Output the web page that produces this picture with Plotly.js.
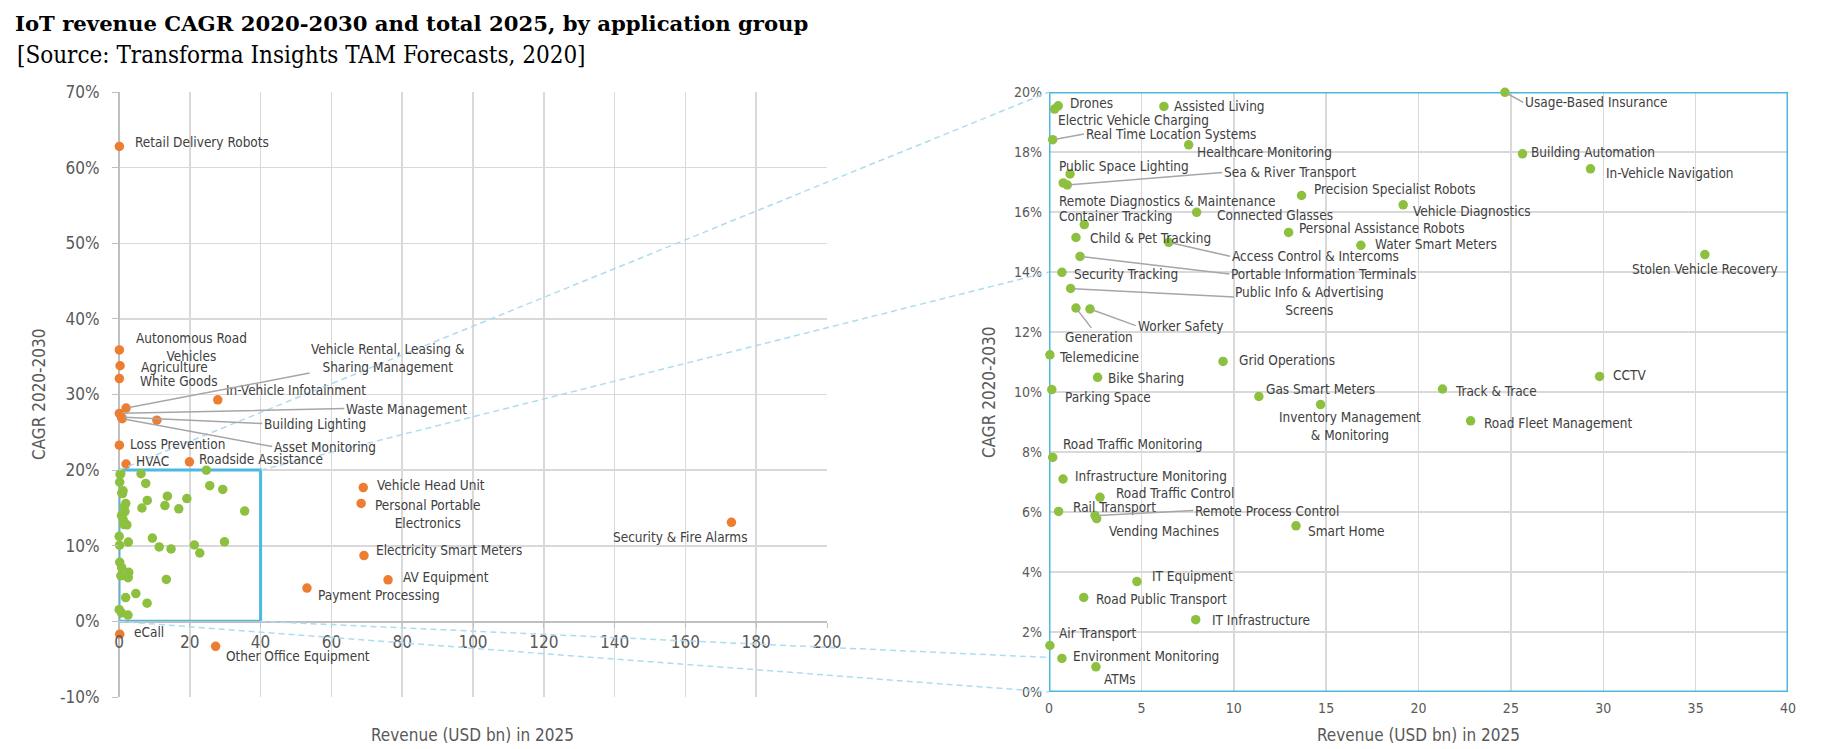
<!DOCTYPE html>
<html><head><meta charset="utf-8">
<script src="https://cdn.plot.ly/plotly-3.0.1.min.js"></script>
<style>html,body{margin:0;padding:0;background:#fff}</style>
</head><body><div id="chart" style="width:1831px;height:749px"></div>
<script>
// ---------------- DATA ----------------
const orangeNames = ["Retail Delivery Robots","Autonomous Road Vehicles","Agriculture","White Goods","In-Vehicle Infotainment","Vehicle Rental, Leasing & Sharing Management","Waste Management","Building Lighting","Asset Monitoring","","Loss Prevention","HVAC","Roadside Assistance","Vehicle Head Unit","Personal Portable Electronics","Electricity Smart Meters","AV Equipment","Payment Processing","Security & Fire Alarms","eCall","Other Office Equipment"];
const orangeRevenue = [0.1,0.1,0.3,0.1,27.9,2.0,0.1,0.7,0.9,10.7,0.1,2.0,19.9,69.0,68.4,69.2,76.0,53.1,173.0,0.2,27.3];
const orangeCagr = [62.8,35.9,33.8,32.1,29.3,28.2,27.5,27.0,26.8,26.6,23.3,20.8,21.1,17.7,15.6,8.7,5.5,4.4,13.1,-1.7,-3.3];

const greenNames = ["Drones","Electric Vehicle Charging","Assisted Living","Real Time Location Systems","Healthcare Monitoring","Public Space Lighting","Sea & River Transport","Remote Diagnostics & Maintenance","Container Tracking","Connected Glasses","Precision Specialist Robots","Personal Assistance Robots","Water Smart Meters","Vehicle Diagnostics","Child & Pet Tracking","Access Control & Intercoms","Portable Information Terminals","Security Tracking","Public Info & Advertising Screens","Generation","Worker Safety","Telemedicine","Bike Sharing","Parking Space","Grid Operations","Gas Smart Meters","Inventory Management & Monitoring","Road Traffic Monitoring","Infrastructure Monitoring","CCTV","Track & Trace","Road Fleet Management","Usage-Based Insurance","Building Automation","In-Vehicle Navigation","Stolen Vehicle Recovery","Road Traffic Control","Rail Transport","Remote Process Control","Vending Machines","Smart Home","IT Equipment","Road Public Transport","IT Infrastructure","Air Transport","Environment Monitoring","ATMs"];
const greenRevenue = [0.5,0.3,6.22,0.2,7.56,1.14,0.99,0.77,1.91,7.99,13.67,12.97,16.88,19.17,1.46,6.48,1.68,0.70,1.17,1.46,2.22,0.05,2.63,0.15,9.42,11.36,14.7,0.2,0.76,29.8,21.3,22.82,24.68,25.63,29.31,35.5,2.76,0.52,2.49,2.58,13.37,4.76,1.88,7.94,0.05,0.7,2.54];
const greenCagr = [19.54,19.43,19.52,18.41,18.24,17.27,16.9,16.97,15.58,15.99,16.55,15.32,14.89,16.24,15.15,14.99,14.52,13.99,13.45,12.8,12.77,11.24,10.49,10.08,11.02,9.85,9.58,7.82,7.1,10.52,10.1,9.04,19.99,17.94,17.44,14.58,6.49,6.02,5.88,5.78,5.54,3.68,3.15,2.41,1.55,1.12,0.84];

const leftXTicks = [0,20,40,60,80,100,120,140,160,180,200];
const leftYTicks = [-10,0,10,20,30,40,50,60,70];
const rightXTicks = [0,5,10,15,20,25,30,35,40];
const rightYTicks = [0,2,4,6,8,10,12,14,16,18,20];

// zoom box on the left chart and where its connectors land on the right chart
const zoomBox = {x0:0, x1:40, y0:0, y1:20};
const connectorsFrom = [[0,20],[40,20],[40,0],[0,0]];   // left-chart data coords
const connectorsTo   = [[0,20],[0,14],[0,1.15],[0,0]];  // right-chart data coords

// ---------------- LABEL PLACEMENT (px offsets) ----------------
// [dx, dy(up), anchor, leader, displayText]
const orangeLabelPos = {
 "Retail Delivery Robots":[14,4.7,'left',false],
 "Autonomous Road Vehicles":[71.8,3,'center',false,"Autonomous Road<br>Vehicles"],
 "Agriculture":[19,-1.7,'left',false],
 "White Goods":[18.7,-2.3,'left',false],
 "In-Vehicle Infotainment":[6.3,10,'left',false],
 "Vehicle Rental, Leasing & Sharing Management":[262,50,'center',true,"Vehicle Rental, Leasing &<br>Sharing Management"],
 "Waste Management":[225,4.8,'left',true],
 "Building Lighting":[140.8,-6.4,'left',true],
 "Asset Monitoring":[150,-27.9,'left',true],
 "Loss Prevention":[8.3,0.7,'left',false],
 "HVAC":[8.3,2.6,'left',false],
 "Roadside Assistance":[8,2.4,'left',false],
 "Vehicle Head Unit":[11.3,2.7,'left',false],
 "Personal Portable Electronics":[66,-10.3,'center',false,"Personal Portable<br>Electronics"],
 "Electricity Smart Meters":[9.6,6,'left',false],
 "AV Equipment":[13,2.6,'left',false],
 "Payment Processing":[9,-6.7,'left',false],
 "Security & Fire Alarms":[-51.2,-14.3,'center',false],
 "eCall":[12,2.3,'left',false],
 "Other Office Equipment":[8.3,-10,'left',false]
};
const greenLabelPos = {
 "Drones":[10,3.3,'left',false],
 "Electric Vehicle Charging":[1.7,-10.7,'left',false],
 "Assisted Living":[8.3,0,'left',false],
 "Real Time Location Systems":[31.3,5.7,'left',true],
 "Healthcare Monitoring":[6.3,-7.3,'left',false],
 "Public Space Lighting":[-12.7,8.3,'left',false],
 "Sea & River Transport":[155,12.6,'left',true],
 "Remote Diagnostics & Maintenance":[-6.6,-18.4,'left',false],
 "Container Tracking":[-27.3,8.3,'left',false],
 "Connected Glasses":[18.3,-2.3,'left',false],
 "Precision Specialist Robots":[10.6,6.4,'left',false],
 "Personal Assistance Robots":[8,4.4,'left',false],
 "Water Smart Meters":[12.3,1.4,'left',false],
 "Vehicle Diagnostics":[7.7,-5.7,'left',false],
 "Child & Pet Tracking":[12.3,0,'left',false],
 "Access Control & Intercoms":[61.3,-14,'left',true],
 "Portable Information Terminals":[149.3,-17.6,'left',true],
 "Security Tracking":[10.3,-1.6,'left',false],
 "Public Info & Advertising Screens":[239.3,-12.6,'center',true,"Public Info & Advertising<br>Screens"],
 "Generation":[22.7,-29.4,'center',true],
 "Worker Safety":[45.7,-16.7,'left',true],
 "Telemedicine":[6.7,-1.7,'left',false],
 "Bike Sharing":[8.3,-0.6,'left',false],
 "Parking Space":[11.6,-7.7,'left',false],
 "Grid Operations":[14.3,1.7,'left',false],
 "Gas Smart Meters":[5,7.7,'left',false],
 "Inventory Management & Monitoring":[29,-21.3,'center',false,"Inventory Management<br>& Monitoring"],
 "Road Traffic Monitoring":[8,13.4,'left',false],
 "Infrastructure Monitoring":[10.3,2.6,'left',false],
 "CCTV":[11.3,1,'left',false],
 "Track & Trace":[10,-2.4,'left',false],
 "Road Fleet Management":[11,-1.7,'left',false],
 "Usage-Based Insurance":[18.3,-10,'left',true],
 "Building Automation":[6.3,2.3,'left',false],
 "In-Vehicle Navigation":[13.3,-4.3,'left',false],
 "Stolen Vehicle Recovery":[0,-14,'center',false],
 "Road Traffic Control":[14.3,4.4,'left',false],
 "Rail Transport":[12,4,'left',false],
 "Remote Process Control":[98.3,5,'left',true],
 "Vending Machines":[10,-12,'left',false],
 "Smart Home":[9.7,-5,'left',false],
 "IT Equipment":[12.7,5.3,'left',false],
 "Road Public Transport":[10.6,-1.6,'left',false],
 "IT Infrastructure":[14.3,-0.7,'left',false],
 "Air Transport":[6.7,12.4,'left',false],
 "Environment Monitoring":[8.7,2,'left',false],
 "ATMs":[5.7,-12,'left',false]
};

// ---------------- LAYOUT ----------------
const W=1831, H=749;
const FONT = "'DejaVu Sans Condensed', 'DejaVu Sans', sans-serif";
const ORANGE='#ED7D31', GREEN='#8DC03F', BLUE='#4DB8E2', GRID='#D9D9D9', AXIS='#BFBFBF';
const LXdom=[119/W, 827/W], LYdom=[1-697/H, 1-92/H];
const RXdom=[1049/W, 1788/W], RYdom=[1-692/H, 1-92/H];
const LXr=[0,200], LYr=[-10,70], RXr=[0,40], RYr=[0,20];

function lin(v, r, d){ return d[0] + (v-r[0])/(r[1]-r[0])*(d[1]-d[0]); }
function pL(p){ return [lin(p[0],LXr,LXdom), lin(p[1],LYr,LYdom)]; }
function pR(p){ return [lin(p[0],RXr,RXdom), lin(p[1],RYr,RYdom)]; }
function pctText(v){ return (v<0?'-':'') + Math.abs(v) + '%'; }

const traces = [
 {x:greenRevenue, y:greenCagr, xaxis:'x', yaxis:'y', mode:'markers', type:'scatter',
  marker:{color:GREEN, size:9.5}, hoverinfo:'skip', cliponaxis:false},
 {x:orangeRevenue, y:orangeCagr, xaxis:'x', yaxis:'y', mode:'markers', type:'scatter',
  marker:{color:ORANGE, size:9.5}, hoverinfo:'skip', cliponaxis:false},
 {x:greenRevenue, y:greenCagr, xaxis:'x2', yaxis:'y2', mode:'markers', type:'scatter',
  marker:{color:GREEN, size:9.5}, hoverinfo:'skip', cliponaxis:false}
];

const annotations = [];
function addLabels(names, xs, ys, pos, xref, yref){
  names.forEach((n,i)=>{
    const s = pos[n]; if(!n || !s) return;
    const txt = s[4] || n;
    const base = {x:xs[i], y:ys[i], xref:xref, yref:yref, text:txt, align:'center',
      font:{family:FONT, size:13.5, color:'#404040'}, xanchor:s[2], yanchor:'middle'};
    if(s[3]){
      Object.assign(base,{showarrow:true, ax:s[0], ay:-s[1], arrowhead:0, arrowwidth:1.5,
        arrowcolor:'#A6A6A6', standoff:3});
    } else {
      Object.assign(base,{showarrow:false, xshift:s[0], yshift:s[1]});
    }
    annotations.push(base);
  });
}
addLabels(orangeNames, orangeRevenue, orangeCagr, orangeLabelPos, 'x', 'y');
addLabels(greenNames, greenRevenue, greenCagr, greenLabelPos, 'x2', 'y2');

// axis titles + subtitle
annotations.push({xref:'paper',yref:'paper',x:(LXdom[0]+LXdom[1])/2,y:1-735/H,text:'Revenue (USD bn) in 2025',
  showarrow:false,xanchor:'center',yanchor:'middle',font:{family:FONT,size:17,color:'#595959'}});
annotations.push({xref:'paper',yref:'paper',x:(RXdom[0]+RXdom[1])/2,y:1-735/H,text:'Revenue (USD bn) in 2025',
  showarrow:false,xanchor:'center',yanchor:'middle',font:{family:FONT,size:17,color:'#595959'}});
annotations.push({xref:'paper',yref:'paper',x:38.5/W,y:(LYdom[0]+LYdom[1])/2,text:'CAGR 2020-2030',textangle:-90,
  showarrow:false,xanchor:'center',yanchor:'middle',font:{family:FONT,size:17,color:'#595959'}});
annotations.push({xref:'paper',yref:'paper',x:989/W,y:(RYdom[0]+RYdom[1])/2,text:'CAGR 2020-2030',textangle:-90,
  showarrow:false,xanchor:'center',yanchor:'middle',font:{family:FONT,size:17,color:'#595959'}});
annotations.push({xref:'paper',yref:'paper',x:15/W,y:1-55/H,text:'[Source: Transforma Insights TAM Forecasts, 2020]',
  showarrow:false,xanchor:'left',yanchor:'middle',font:{family:"'DejaVu Serif Condensed', 'DejaVu Serif', serif",size:24,color:'#000'}});

const shapes = [];
// zoom box on left chart
shapes.push({type:'rect', xref:'x', yref:'y', x0:zoomBox.x0, x1:zoomBox.x1, y0:zoomBox.y0, y1:zoomBox.y1,
  line:{color:BLUE, width:3}, layer:'between'});
// border of right chart
shapes.push({type:'rect', xref:'x2', yref:'y2', x0:RXr[0], x1:RXr[1], y0:RYr[0], y1:RYr[1],
  line:{color:BLUE, width:3}, layer:'between'});
// dashed connectors
connectorsFrom.forEach((f,i)=>{
  const a = pL(f), b = pR(connectorsTo[i]);
  shapes.push({type:'line', xref:'paper', yref:'paper', x0:a[0], y0:a[1], x1:b[0], y1:b[1],
    line:{color:'#ADDCF0', width:1.5, dash:'6px,4px'}, layer:'above'});
});

const tickFontL = {family:FONT, size:17, color:'#595959'};
const tickFontR = {family:FONT, size:14, color:'#595959'};

const layout = {
  width:W, height:H, margin:{l:0,r:0,t:0,b:0}, paper_bgcolor:'#fff', plot_bgcolor:'#fff',
  showlegend:false,
  title:{text:'<b>IoT revenue CAGR 2020-2030 and total 2025, by application group</b>', xref:'paper', yref:'paper',
    x:15/W, xanchor:'left', y:1-24/H, yanchor:'middle',
    font:{family:"'DejaVu Serif', serif", size:21.2, color:'#000'}},
  xaxis:{domain:LXdom, range:LXr, anchor:'free', position:pL([0,0])[1],
    tickmode:'array', tickvals:leftXTicks, ticktext:leftXTicks.map(String),
    showgrid:true, gridcolor:GRID, gridwidth:1.5, zeroline:true, zerolinecolor:AXIS, zerolinewidth:1.5,
    showline:true, linecolor:AXIS, linewidth:1.5, ticks:'outside', ticklen:5, tickcolor:AXIS,
    tickfont:tickFontL, fixedrange:true},
  yaxis:{domain:LYdom, range:LYr, anchor:'x',
    tickmode:'array', tickvals:leftYTicks, ticktext:leftYTicks.map(pctText),
    showgrid:true, gridcolor:GRID, gridwidth:1.5, zeroline:false,
    showline:false, ticks:'outside', ticklen:6, tickcolor:AXIS, ticklabelstandoff:9,
    tickfont:tickFontL, fixedrange:true},
  xaxis2:{domain:RXdom, range:RXr, anchor:'y2',
    tickmode:'array', tickvals:rightXTicks, ticktext:rightXTicks.map(String),
    showgrid:true, gridcolor:GRID, gridwidth:1.5, zeroline:false, showline:false, ticks:'',
    ticklabelstandoff:6, tickfont:tickFontR, fixedrange:true},
  yaxis2:{domain:RYdom, range:RYr, anchor:'x2',
    tickmode:'array', tickvals:rightYTicks, ticktext:rightYTicks.map(pctText),
    showgrid:true, gridcolor:GRID, gridwidth:1.5, zeroline:false, showline:false, ticks:'',
    ticklabelstandoff:6, tickfont:tickFontR, fixedrange:true},
  annotations:annotations, shapes:shapes
};

Plotly.newPlot('chart', traces, layout, {staticPlot:true, displayModeBar:false});
</script></body></html>
